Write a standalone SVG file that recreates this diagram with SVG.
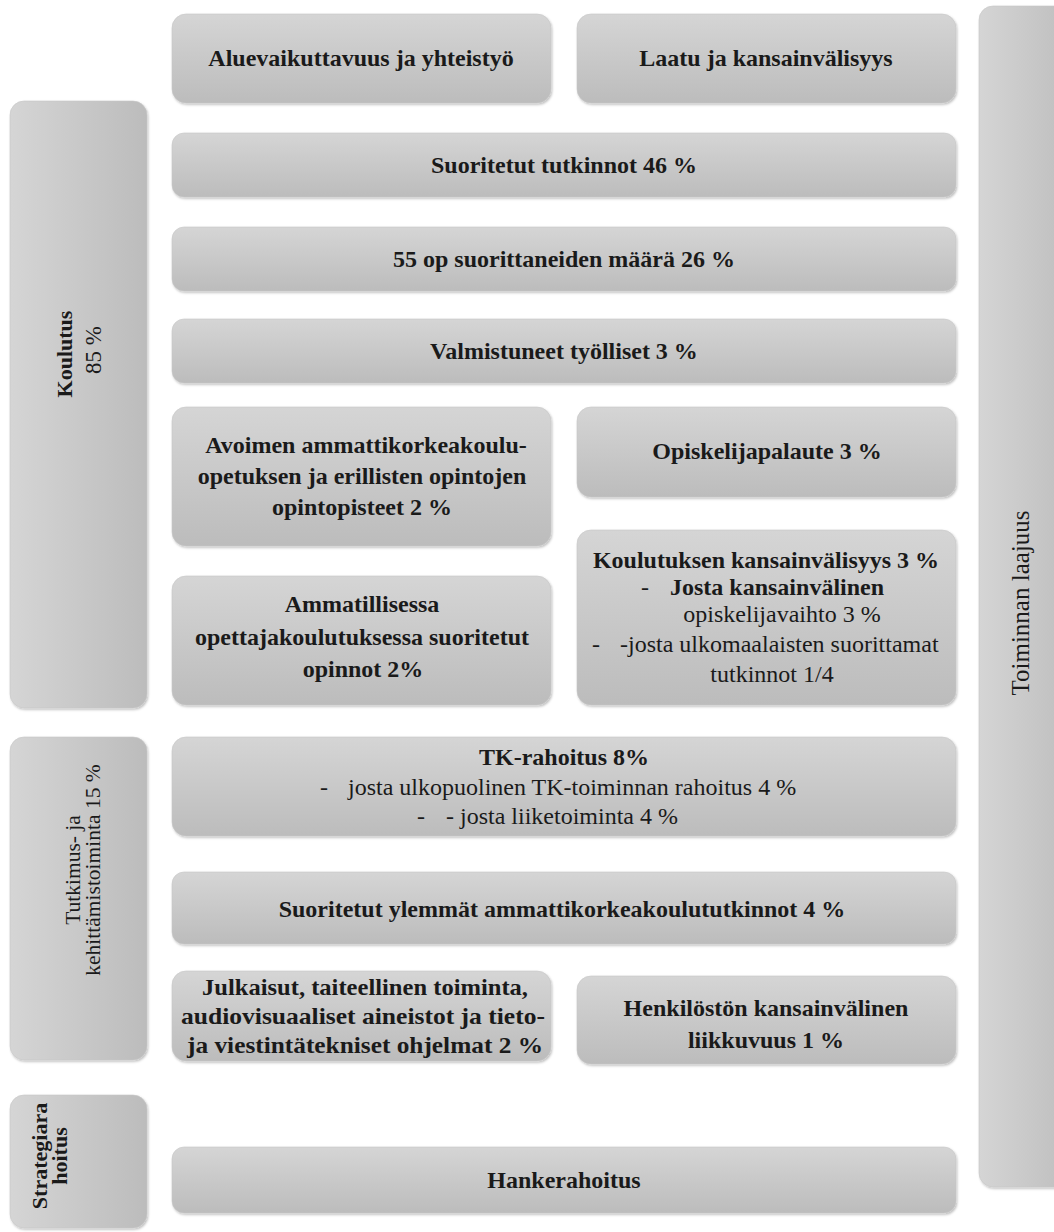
<svg xmlns="http://www.w3.org/2000/svg" width="1054" height="1232" viewBox="0 0 1054 1232">
<defs>
<linearGradient id="gv" x1="0" y1="0" x2="0" y2="1"><stop offset="0" stop-color="#d5d5d5"/><stop offset="1" stop-color="#bcbcbc"/></linearGradient>
<linearGradient id="gh" x1="0" y1="0" x2="1" y2="0"><stop offset="0" stop-color="#d5d5d5"/><stop offset="1" stop-color="#bcbcbc"/></linearGradient>
<filter id="sh" x="-5%" y="-5%" width="110%" height="115%"><feDropShadow dx="1" dy="1.5" stdDeviation="1.2" flood-color="#000" flood-opacity="0.25"/></filter>
<style>
.bx{fill:url(#gv);filter:url(#sh);stroke:#c8c8c8;stroke-width:0.6}
.bv{fill:url(#gh);filter:url(#sh);stroke:#c8c8c8;stroke-width:0.6}
text{font-family:"Liberation Serif","DejaVu Serif",serif;fill:#1a1a1a;font-size:24px}
.b{font-weight:bold}
.c{text-anchor:middle}
.r{font-size:23px}
</style>
</defs>
<rect width="1054" height="1232" fill="#fff"/>
<g id="n-laajuus"><rect class="bv" x="979" y="6" width="100" height="1181" rx="14"/><text class="c" style="font-size:25px" transform="translate(1029,603) rotate(-90)">Toiminnan laajuus</text></g>
<g id="n-koulutus"><rect class="bv" x="10" y="101" width="137" height="607" rx="14"/><text class="c b" style="font-size:22px" transform="translate(72,354) rotate(-90)">Koulutus</text><text class="c r" transform="translate(101,350) rotate(-90)">85 %</text></g>
<g id="n-tki"><rect class="bv" x="10" y="737" width="137" height="323" rx="14"/><text class="c" style="font-size:21.5px" transform="translate(80,870) rotate(-90)">Tutkimus- ja</text><text class="c" style="font-size:21.5px" transform="translate(100,870) rotate(-90)">kehittämistoiminta 15 %</text></g>
<g id="n-strategia"><rect class="bv" x="10" y="1095" width="137" height="133" rx="14"/><text class="c b" style="font-size:22px" transform="translate(47,1156) rotate(-90)">Strategiara</text><text class="c b" style="font-size:22px" transform="translate(67,1156) rotate(-90)">hoitus</text></g>
<g id="n-alue"><rect class="bx" x="172" y="14" width="379" height="89" rx="14"/><text class="c b" x="361" y="66">Aluevaikuttavuus ja yhteistyö</text></g>
<g id="n-laatu"><rect class="bx" x="577" y="14" width="379" height="89" rx="14"/><text class="c b" x="766" y="66">Laatu ja kansainvälisyys</text></g>
<g id="n-tutkinnot"><rect class="bx" x="172" y="133" width="784" height="64" rx="12"/><text class="c b" x="564" y="173">Suoritetut tutkinnot 46 %</text></g>
<g id="n-55op"><rect class="bx" x="172" y="227" width="784" height="64" rx="12"/><text class="c b" x="564" y="267">55 op suorittaneiden määrä 26 %</text></g>
<g id="n-valm"><rect class="bx" x="172" y="319" width="784" height="64" rx="12"/><text class="c b" x="564" y="359">Valmistuneet työlliset 3 %</text></g>
<g id="n-avoin"><rect class="bx" x="172" y="407" width="379" height="139" rx="14"/><text class="c b" x="366" y="453">Avoimen ammattikorkeakoulu-</text><text class="c b" x="362" y="484">opetuksen ja erillisten opintojen</text><text class="c b" x="362" y="515">opintopisteet 2 %</text></g>
<g id="n-palaute"><rect class="bx" x="577" y="407" width="379" height="90" rx="14"/><text class="c b" x="767" y="459">Opiskelijapalaute 3 %</text></g>
<g id="n-kvkoul"><rect class="bx" x="577" y="530" width="379" height="175" rx="14"/><text class="c b" x="766" y="568">Koulutuksen kansainvälisyys 3 %</text><text x="641" y="595">-</text><text class="b" x="670" y="595">Josta kansainvälinen</text><text class="c" x="782" y="622">opiskelijavaihto 3 %</text><text x="592" y="652">-</text><text x="620" y="652">-josta ulkomaalaisten suorittamat</text><text class="c" x="772" y="682">tutkinnot 1/4</text></g>
<g id="n-opettaja"><rect class="bx" x="172" y="576" width="379" height="129" rx="14"/><text class="c b" x="362" y="612">Ammatillisessa</text><text class="c b" x="362" y="645">opettajakoulutuksessa suoritetut</text><text class="c b" x="363" y="677">opinnot 2%</text></g>
<g id="n-tkraha"><rect class="bx" x="172" y="737" width="784" height="99" rx="14"/><text class="c b" x="564" y="765">TK-rahoitus 8%</text><text x="320" y="795">-</text><text x="348" y="795">josta ulkopuolinen TK-toiminnan rahoitus 4 %</text><text x="417" y="824">-</text><text x="446" y="824">- josta liiketoiminta 4 %</text></g>
<g id="n-ylemmat"><rect class="bx" x="172" y="872" width="784" height="72" rx="12"/><text class="c b" x="562" y="917">Suoritetut ylemmät ammattikorkeakoulututkinnot 4 %</text></g>
<g id="n-julkaisut"><rect class="bx" x="172" y="971" width="379" height="90" rx="14"/><text class="c b" x="365" y="995" textLength="326" lengthAdjust="spacingAndGlyphs">Julkaisut, taiteellinen toiminta,</text><text class="c b" x="363" y="1024" textLength="364" lengthAdjust="spacingAndGlyphs">audiovisuaaliset aineistot ja tieto-</text><text class="c b" x="365" y="1053" textLength="356" lengthAdjust="spacingAndGlyphs">ja viestintätekniset ohjelmat 2 %</text></g>
<g id="n-henkilosto"><rect class="bx" x="577" y="976" width="379" height="88" rx="14"/><text class="c b" x="766" y="1016">Henkilöstön kansainvälinen</text><text class="c b" x="766" y="1048">liikkuvuus 1 %</text></g>
<g id="n-hanke"><rect class="bx" x="172" y="1147" width="784" height="66" rx="12"/><text class="c b" x="564" y="1188">Hankerahoitus</text></g>
<g id="connectors"/>
</svg>
